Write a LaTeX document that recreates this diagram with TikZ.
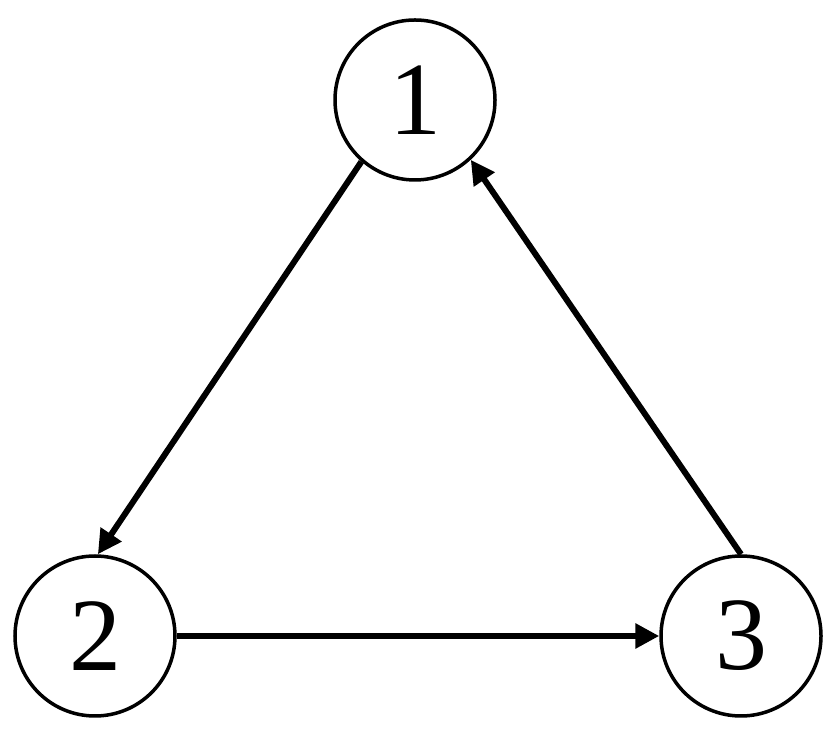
\documentclass[tikz,border=0pt]{standalone}
\usepackage{fontspec}
\setmainfont{Liberation Serif}
\usetikzlibrary{arrows.meta}
\begin{document}
\begin{tikzpicture}[x=1pt,y=1pt,
  vert/.style={circle,draw,line width=3.5pt,minimum size=160pt,inner sep=0pt,font=\fontsize{104}{104}\selectfont},
  edge/.style={line width=6pt,-{Triangle[length=24pt,width=24pt]}}]
\useasboundingbox (0,0) rectangle (829,746);
\node[vert] (n1) at (415,646) {1};
\node[vert] (n2) at (95,110) {2};
\node[vert] (n3) at (741,110) {3};
\draw[edge] (n1.229) -- (n2.88);
\draw[edge] (n2) -- (n3);
\draw[edge] (n3.90) -- (n1.313);
\end{tikzpicture}
\end{document}
